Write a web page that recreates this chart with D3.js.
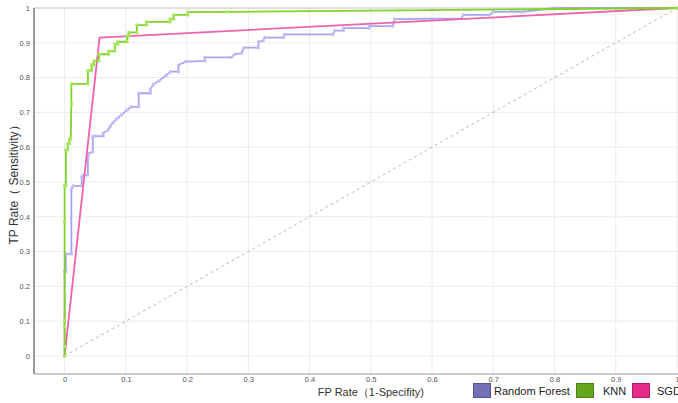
<!DOCTYPE html>
<html>
<head>
<meta charset="utf-8">
<script src="https://cdn.jsdelivr.net/npm/d3@7"></script>
<style>
  html, body { margin: 0; padding: 0; background: #fff; }
  svg { display: block; font-family: "Liberation Sans", Arial, sans-serif; }
</style>
</head>
<body>
<svg id="chart" width="678" height="403"></svg>
<script>
// ROC curve points: [false positive rate, true positive rate]
const rfPoints = [
  [0,0],[0,0.242],[0.002,0.242],[0.002,0.293],[0.011,0.293],[0.011,0.479],[0.014,0.489],
  [0.028,0.489],[0.028,0.515],[0.031,0.520],[0.038,0.520],[0.038,0.573],[0.040,0.582],
  [0.046,0.587],[0.046,0.630],[0.050,0.632],[0.063,0.632],[0.063,0.640],[0.071,0.649],
  [0.074,0.659],[0.079,0.670],[0.084,0.680],[0.093,0.693],[0.102,0.707],[0.109,0.716],
  [0.121,0.716],[0.121,0.755],[0.140,0.755],[0.140,0.766],[0.145,0.781],[0.154,0.790],
  [0.166,0.807],[0.173,0.817],[0.186,0.817],[0.186,0.836],[0.198,0.846],[0.229,0.848],
  [0.229,0.858],[0.272,0.858],[0.278,0.867],[0.289,0.870],[0.293,0.886],[0.316,0.886],
  [0.317,0.903],[0.324,0.906],[0.327,0.915],[0.357,0.915],[0.359,0.924],[0.438,0.924],
  [0.441,0.935],[0.455,0.935],[0.455,0.942],[0.497,0.942],[0.498,0.948],[0.536,0.948],
  [0.539,0.968],[0.648,0.970],[0.651,0.980],[0.694,0.980],[0.700,0.989],[0.749,0.989],
  [0.801,1.0],[1,1]
];
const knnPoints = [
  [0,0],[0,0.027],[0,0.084],[0,0.103],[0,0.386],[0,0.489],[0.002,0.489],[0.002,0.592],
  [0.005,0.592],[0.005,0.610],[0.008,0.610],[0.008,0.623],[0.010,0.623],[0.011,0.724],
  [0.011,0.782],[0.038,0.782],[0.038,0.820],[0.044,0.820],[0.044,0.837],[0.048,0.837],
  [0.048,0.848],[0.056,0.848],[0.056,0.867],[0.072,0.867],[0.072,0.876],[0.082,0.876],
  [0.082,0.896],[0.087,0.896],[0.087,0.903],[0.102,0.903],[0.102,0.920],[0.105,0.920],
  [0.105,0.930],[0.118,0.930],[0.118,0.951],[0.134,0.951],[0.134,0.960],[0.172,0.960],
  [0.172,0.968],[0.178,0.968],[0.178,0.980],[0.201,0.980],[0.201,0.988],[0.265,0.989],
  [0.547,0.993],[1,1]
];
const sgdPoints = [[0,0],[0.057,0.915],[1,1]];
const chancePoints = [[0,0],[1,1]];

const seriesNames = ["Random Forest", "KNN", "SGD"];
const tickValues = [0,0.1,0.2,0.3,0.4,0.5,0.6,0.7,0.8,0.9,1];

const svg = d3.select("#chart");
const plotLeft = 34, plotRight = 677, plotTop = 8, plotBottom = 374;

const x = d3.scaleLinear().domain([-0.05, 1]).range([plotLeft, plotRight]);
const y = d3.scaleLinear().domain([-0.052, 1]).range([plotBottom, plotTop]);

// grid
const grid = svg.append("g");
grid.selectAll("line.v").data(tickValues).join("line")
  .attr("x1", d => x(d)).attr("x2", d => x(d))
  .attr("y1", plotTop).attr("y2", plotBottom)
  .attr("stroke", "#ebebeb").attr("stroke-width", 1);
grid.selectAll("line.h").data(tickValues).join("line")
  .attr("x1", plotLeft).attr("x2", 678)
  .attr("y1", d => y(d)).attr("y2", d => y(d))
  .attr("stroke", d => d === 1 ? "#d4d4d4" : "#ebebeb")
  .attr("stroke-width", d => d === 1 ? 1.5 : 1);

// axes
const fmt = d3.format("~g");
const yAxis = svg.append("g").attr("transform", `translate(${plotLeft},0)`)
  .call(d3.axisLeft(y).tickValues(tickValues).tickSize(0).tickPadding(4).tickFormat(fmt));
const xAxis = svg.append("g").attr("transform", `translate(0,${plotBottom})`)
  .call(d3.axisBottom(x).tickValues(tickValues).tickSize(0).tickPadding(3).tickFormat(fmt));
[xAxis, yAxis].forEach(a => {
  a.selectAll("text").attr("font-size", 7.5).attr("fill", "#555")
    .attr("font-family", "'Liberation Sans', Arial, sans-serif");
  a.select(".domain").remove();
});
svg.append("line").attr("x1", plotLeft).attr("x2", plotLeft).attr("y1", plotTop).attr("y2", plotBottom)
  .attr("stroke", "#777").attr("stroke-width", 1.5);
svg.append("line").attr("x1", plotLeft).attr("x2", 678).attr("y1", plotBottom).attr("y2", plotBottom)
  .attr("stroke", "#999").attr("stroke-width", 1.2);

// axis titles
svg.append("text")
  .attr("transform", `translate(18,${(y(0) + y(1)) / 2}) rotate(-90)`)
  .attr("text-anchor", "middle").attr("font-size", 12).attr("fill", "#333")
  .text("TP Rate（ Sensitivity）");
svg.append("text")
  .attr("x", (x(0) + x(1)) / 2).attr("y", 396)
  .attr("text-anchor", "middle").attr("font-size", 11).attr("fill", "#333")
  .text("FP Rate（1-Specifity)");

// diagonal reference line
const line = d3.line().x(d => x(d[0])).y(d => y(d[1]));
svg.append("path").datum(chancePoints).attr("d", line)
  .attr("fill", "none").attr("stroke", "#bbb").attr("stroke-width", 1)
  .attr("stroke-dasharray", "3,3");

// curves
const curves = [
  { pts: rfPoints, stroke: "#aaa3f0", marker: "#c3bdf7", markers: true },
  { pts: sgdPoints, stroke: "#f062aa", marker: "#f062aa", markers: false },
  { pts: knnPoints, stroke: "#7fd42a", marker: "#a8e65e", markers: true }
];
curves.forEach(c => {
  svg.append("path").datum(c.pts).attr("d", line)
    .attr("fill", "none").attr("stroke", c.stroke).attr("stroke-width", 1.8)
    .attr("stroke-linejoin", "round");
  if (c.markers) {
    svg.append("g").selectAll("rect").data(c.pts).join("rect")
      .attr("x", d => x(d[0]) - 1.5).attr("y", d => y(d[1]) - 1.5)
      .attr("width", 3).attr("height", 3).attr("fill", c.marker);
  }
});

// legend
const legendColors = ["#7570b3", "#66a61e", "#e7298a"];
const legendX = [473, 576, 632];
const legendTextX = [494, 603, 657];
const lg = svg.append("g");
seriesNames.forEach((name, i) => {
  lg.append("rect").attr("x", legendX[i] + 0.5).attr("y", 383.5)
    .attr("width", 17).attr("height", 14)
    .attr("fill", legendColors[i])
    .attr("stroke", d3.color(legendColors[i]).darker(0.8)).attr("stroke-width", 1);
  lg.append("text").attr("x", legendTextX[i]).attr("y", 394.5)
    .attr("font-size", 11).attr("fill", "#222").text(name);
});
</script>
</body>
</html>
